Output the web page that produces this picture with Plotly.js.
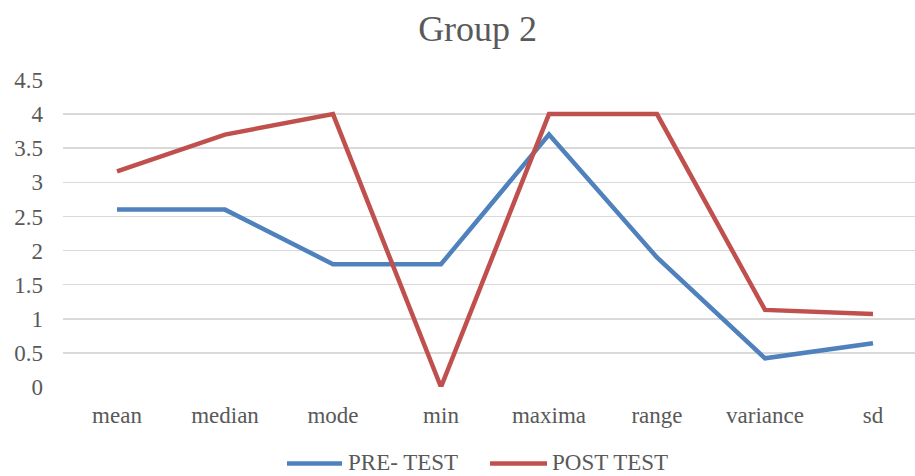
<!DOCTYPE html>
<html><head><meta charset="utf-8">
<script src="https://cdn.plot.ly/plotly-3.0.1.min.js"></script>
<style>body{margin:0;background:#fff}#c{width:915px;height:476px}</style>
</head><body><div id="c"></div>
<script>
const categories = ["mean","median","mode","min","maxima","range","variance","sd"];
const preTest = [2.6, 2.6, 1.8, 1.8, 3.7, 1.9, 0.42, 0.64];
const postTest = [3.16, 3.7, 4, 0, 4, 4, 1.13, 1.07];
const seriesNames = ["PRE- TEST", "POST TEST"];
const seriesColors = ["#4F81BD", "#C0504D"];
const yTicks = [0,0.5,1,1.5,2,2.5,3,3.5,4,4.5];
const yTickText = ["0","0.5","1","1.5","2","2.5","3","3.5","4","4.5"];
const font = "Liberation Serif, Times New Roman, serif";
const traces = [
  {x: categories, y: preTest, name: seriesNames[0], type: "scatter", mode: "lines",
   line: {color: seriesColors[0], width: 4.5}},
  {x: categories, y: postTest, name: seriesNames[1], type: "scatter", mode: "lines",
   line: {color: seriesColors[1], width: 4.5}}
];
// Legend drawn as shapes + annotations (longer swatches like the reference)
const legendSwatchX = [[0.2629, 0.3275], [0.5012, 0.5681]];
const legendTextX = [0.3333, 0.5728];
const legendLineY = -0.2492, legendTextY = -0.2443;
const shapes = legendSwatchX.map(function(s, i){
  return {type: "line", xref: "paper", yref: "paper", x0: s[0], x1: s[1], y0: legendLineY, y1: legendLineY,
          line: {color: seriesColors[i], width: 4.5}};
});
const annotations = legendTextX.map(function(x, i){
  return {xref: "paper", yref: "paper", x: x, y: legendTextY, xanchor: "left", yanchor: "middle",
          text: seriesNames[i], showarrow: false, borderpad: 0,
          font: {family: font, size: 23, color: "#595959"}};
});
const layout = {
  width: 915, height: 476,
  margin: {l: 63, r: 0, t: 80, b: 89, autoexpand: false},
  paper_bgcolor: "#fff", plot_bgcolor: "#fff",
  font: {family: font, color: "#595959", size: 23},
  title: {text: "Group 2", font: {family: font, size: 36, color: "#595959"}, x: 0.522, xanchor: "center", y: 0.94, yanchor: "middle"},
  xaxis: {type: "category", range: [-0.5, 7.389], showgrid: false, zeroline: false, showline: false, automargin: false,
          ticks: "", ticklabelstandoff: 12, tickfont: {family: font, size: 23, color: "#595959"}},
  yaxis: {range: [0, 4.5], tickvals: yTicks, ticktext: yTickText, showgrid: true, gridcolor: "#D9D9D9", gridwidth: 1.5,
          zeroline: false, showline: false, ticks: "", ticklabelstandoff: 19, automargin: false,
          tickfont: {family: font, size: 23, color: "#595959"}},
  showlegend: false,
  shapes: shapes,
  annotations: annotations
};
Plotly.newPlot("c", traces, layout, {displayModeBar: false, staticPlot: true});
</script></body></html>
